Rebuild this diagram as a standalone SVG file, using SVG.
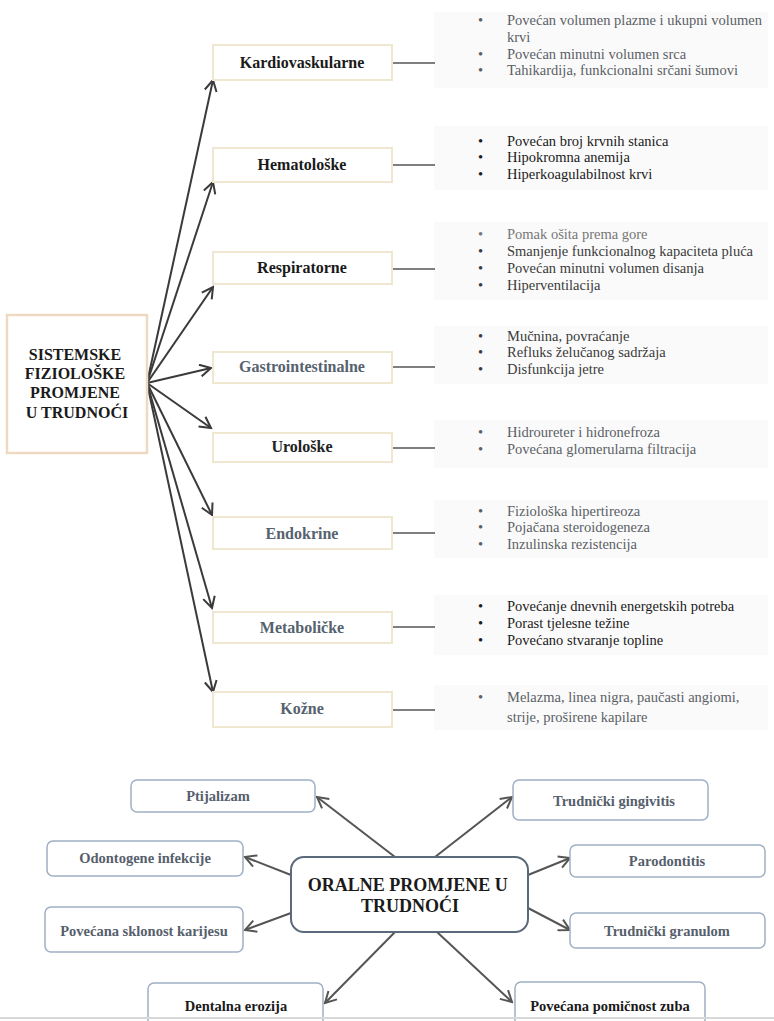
<svg xmlns="http://www.w3.org/2000/svg" width="774" height="1021" viewBox="0 0 774 1021">
<style>
.bg{fill:#ffffff}
.cat{fill:#ffffff;stroke:#efe7cf;stroke-width:2}
.catt{font-family:"Liberation Serif",serif;font-weight:bold;font-size:16px;text-anchor:middle}
.panel{fill:#fafafa}
.bl{font-family:"Liberation Serif",serif;font-size:14.5px}
.stub{stroke:#555;stroke-width:1.5}
.arr{stroke:#3a3a3a;stroke-width:2;fill:none;marker-end:url(#ah)}
.arr2{stroke:#555;stroke-width:2;fill:none;marker-end:url(#ah2)}
.leaf{fill:#ffffff;stroke:#9fb0c4;stroke-width:1.5}
.leaft{font-family:"Liberation Serif",serif;font-weight:bold;font-size:14.5px;text-anchor:middle;fill:#56606c}
.dk{fill:#1a1a1a}
.gy{fill:#5a5f66}
.sl{fill:#56626e}
</style>
<defs>
<marker id="ah" markerUnits="userSpaceOnUse" markerWidth="14" markerHeight="14" refX="12" refY="7" orient="auto">
<path d="M1,1 L12,7 L1,13" fill="none" stroke="#3a3a3a" stroke-width="2"/>
</marker>
<marker id="ah2" markerUnits="userSpaceOnUse" markerWidth="14" markerHeight="14" refX="12" refY="7" orient="auto">
<path d="M1,1 L12,7 L1,13" fill="none" stroke="#555" stroke-width="2"/>
</marker>
</defs>
<rect class="bg" x="0" y="0" width="774" height="1021"/>

<g id="panels">
<rect class="panel" x="434" y="12" width="334" height="76"/>
<rect class="panel" x="434" y="126" width="334" height="64"/>
<rect class="panel" x="434" y="222" width="334" height="78"/>
<rect class="panel" x="434" y="326" width="334" height="58"/>
<rect class="panel" x="434" y="420" width="334" height="48"/>
<rect class="panel" x="434" y="500" width="334" height="58"/>
<rect class="panel" x="434" y="595" width="334" height="60"/>
<rect class="panel" x="434" y="685" width="334" height="45"/>
</g>

<g id="connectors">
<line class="arr" x1="147" y1="383" x2="213" y2="80"/>
<line class="arr" x1="147" y1="383" x2="213" y2="182"/>
<line class="arr" x1="147" y1="383" x2="213" y2="287"/>
<line class="arr" x1="147" y1="383" x2="211" y2="368"/>
<line class="arr" x1="147" y1="383" x2="211" y2="428"/>
<line class="arr" x1="147" y1="383" x2="212" y2="515"/>
<line class="arr" x1="147" y1="383" x2="212" y2="608"/>
<line class="arr" x1="147" y1="383" x2="213" y2="692"/>
<line class="stub" x1="392" y1="63" x2="435" y2="63"/>
<line class="stub" x1="392" y1="165" x2="435" y2="165"/>
<line class="stub" x1="392" y1="269" x2="435" y2="269"/>
<line class="stub" x1="392" y1="367" x2="435" y2="367"/>
<line class="stub" x1="392" y1="448" x2="435" y2="448"/>
<line class="stub" x1="392" y1="533" x2="435" y2="533"/>
<line class="stub" x1="392" y1="627" x2="435" y2="627"/>
<line class="stub" x1="392" y1="710" x2="435" y2="710"/>
<line class="arr2" x1="395" y1="857" x2="317" y2="797"/>
<line class="arr2" x1="291" y1="875" x2="245" y2="857"/>
<line class="arr2" x1="291" y1="913" x2="245" y2="930"/>
<line class="arr2" x1="395" y1="932" x2="325" y2="1003"/>
<line class="arr2" x1="435" y1="857" x2="512" y2="797"/>
<line class="arr2" x1="528" y1="875" x2="570" y2="858"/>
<line class="arr2" x1="528" y1="908" x2="570" y2="930"/>
<line class="arr2" x1="437" y1="932" x2="512" y2="1002"/>
</g>

<g id="root-sistemske">
<rect x="7" y="315" width="140" height="138" fill="#fff" stroke="#f0d9c2" stroke-width="2.5"/>
<text font-family="Liberation Serif,serif" font-weight="bold" font-size="16" text-anchor="middle" fill="#1a1a1a">
<tspan x="77" y="360">SISTEMSKE</tspan>
<tspan x="77" y="379">FIZIOLOŠKE</tspan>
<tspan x="77" y="398">PROMJENE</tspan>
<tspan x="77" y="418">U TRUDNOĆI</tspan>
</text>
</g>

<g id="kardiovaskularne">
<rect class="cat" x="213" y="45" width="179" height="35"/>
<text class="catt dk" x="302" y="68">Kardiovaskularne</text>
<text class="bl gy"><tspan x="478" y="25">•</tspan><tspan x="507" y="25">Povećan volumen plazme i ukupni volumen</tspan><tspan x="507" y="42">krvi</tspan><tspan x="478" y="59">•</tspan><tspan x="507" y="59">Povećan minutni volumen srca</tspan><tspan x="478" y="75">•</tspan><tspan x="507" y="75">Tahikardija, funkcionalni srčani šumovi</tspan></text>
</g>

<g id="hematoloske">
<rect class="cat" x="213" y="148" width="179" height="34"/>
<text class="catt dk" x="302" y="170">Hematološke</text>
<text class="bl dk"><tspan x="478" y="146">•</tspan><tspan x="507" y="146">Povećan broj krvnih stanica</tspan><tspan x="478" y="162">•</tspan><tspan x="507" y="162">Hipokromna anemija</tspan><tspan x="478" y="179">•</tspan><tspan x="507" y="179">Hiperkoagulabilnost krvi</tspan></text>
</g>

<g id="respiratorne">
<rect class="cat" x="213" y="252" width="179" height="32"/>
<text class="catt dk" x="302" y="273">Respiratorne</text>
<text class="bl" fill="#3a3a3a"><tspan x="478" y="239" fill="#777">•</tspan><tspan x="507" y="239" fill="#777">Pomak ošita prema gore</tspan><tspan x="478" y="256">•</tspan><tspan x="507" y="256">Smanjenje funkcionalnog kapaciteta pluća</tspan><tspan x="478" y="273">•</tspan><tspan x="507" y="273">Povećan minutni volumen disanja</tspan><tspan x="478" y="290">•</tspan><tspan x="507" y="290">Hiperventilacija</tspan></text>
</g>

<g id="gastrointestinalne">
<rect class="cat" x="213" y="352" width="179" height="31" stroke="#f2dcc6"/>
<text class="catt sl" x="302" y="372">Gastrointestinalne</text>
<text class="bl" fill="#3a3a3a"><tspan x="478" y="341">•</tspan><tspan x="507" y="341">Mučnina, povraćanje</tspan><tspan x="478" y="357">•</tspan><tspan x="507" y="357">Refluks želučanog sadržaja</tspan><tspan x="478" y="374">•</tspan><tspan x="507" y="374">Disfunkcija jetre</tspan></text>
</g>

<g id="uroloske">
<rect class="cat" x="213" y="433" width="179" height="29"/>
<text class="catt" x="302" y="452" fill="#222">Urološke</text>
<text class="bl gy"><tspan x="478" y="437">•</tspan><tspan x="507" y="437">Hidroureter i hidronefroza</tspan><tspan x="478" y="454">•</tspan><tspan x="507" y="454">Povećana glomerularna filtracija</tspan></text>
</g>

<g id="endokrine">
<rect class="cat" x="213" y="517" width="179" height="32"/>
<text class="catt sl" x="302" y="539">Endokrine</text>
<text class="bl gy"><tspan x="478" y="516">•</tspan><tspan x="507" y="516">Fiziološka hipertireoza</tspan><tspan x="478" y="532">•</tspan><tspan x="507" y="532">Pojačana steroidogeneza</tspan><tspan x="478" y="549">•</tspan><tspan x="507" y="549">Inzulinska rezistencija</tspan></text>
</g>

<g id="metabolicke">
<rect class="cat" x="213" y="612" width="179" height="31"/>
<text class="catt sl" x="302" y="633">Metaboličke</text>
<text class="bl dk"><tspan x="478" y="611">•</tspan><tspan x="507" y="611">Povećanje dnevnih energetskih potreba</tspan><tspan x="478" y="628">•</tspan><tspan x="507" y="628">Porast tjelesne težine</tspan><tspan x="478" y="645">•</tspan><tspan x="507" y="645">Povećano stvaranje topline</tspan></text>
</g>

<g id="kozne">
<rect class="cat" x="213" y="692" width="179" height="35"/>
<text class="catt sl" x="302" y="714">Kožne</text>
<text class="bl gy"><tspan x="478" y="702">•</tspan><tspan x="507" y="702">Melazma, linea nigra, paučasti angiomi,</tspan><tspan x="507" y="722">strije, proširene kapilare</tspan></text>
</g>

<g id="root-oralne">
<rect x="291" y="857" width="237" height="75" rx="13" fill="#fff" stroke="#5a6a7a" stroke-width="2"/>
<text font-family="Liberation Serif,serif" font-size="18" font-weight="bold" text-anchor="middle" fill="#1a1a1a">
<tspan x="410" y="891">ORALNE PROMJENE U</tspan>
<tspan x="410" y="912">TRUDNOĆI</tspan>
</text>
</g>

<g id="ptijalizam">
<rect class="leaf" x="131" y="780" width="184" height="32" rx="6"/>
<text class="leaft" x="218" y="801">Ptijalizam</text>
</g>
<g id="odontogene">
<rect class="leaf" x="47" y="841" width="196" height="35" rx="6"/>
<text class="leaft" x="145" y="863">Odontogene infekcije</text>
</g>
<g id="karijes">
<rect class="leaf" x="45" y="907" width="198" height="45" rx="6"/>
<text class="leaft" x="144" y="936">Povećana sklonost karijesu</text>
</g>
<g id="erozija">
<rect class="leaf" x="148" y="983" width="175" height="50" rx="6"/>
<text class="leaft dk" x="236" y="1011">Dentalna erozija</text>
</g>
<g id="gingivitis">
<rect class="leaf" x="513" y="780" width="195" height="40" rx="6"/>
<text class="leaft" x="614" y="806">Trudnički gingivitis</text>
</g>
<g id="parodontitis">
<rect class="leaf" x="570" y="845" width="195" height="32" rx="6"/>
<text class="leaft" x="667" y="866">Parodontitis</text>
</g>
<g id="granulom">
<rect class="leaf" x="570" y="913" width="195" height="35" rx="6"/>
<text class="leaft" x="667" y="936">Trudnički granulom</text>
</g>
<g id="pomicnost">
<rect class="leaf" x="515" y="982" width="190" height="50" rx="6"/>
<text class="leaft dk" x="610" y="1011">Povećana pomičnost zuba</text>
</g>
<line x1="0" y1="1018" x2="774" y2="1018" stroke="#d8d8d8" stroke-width="2"/>
</svg>
